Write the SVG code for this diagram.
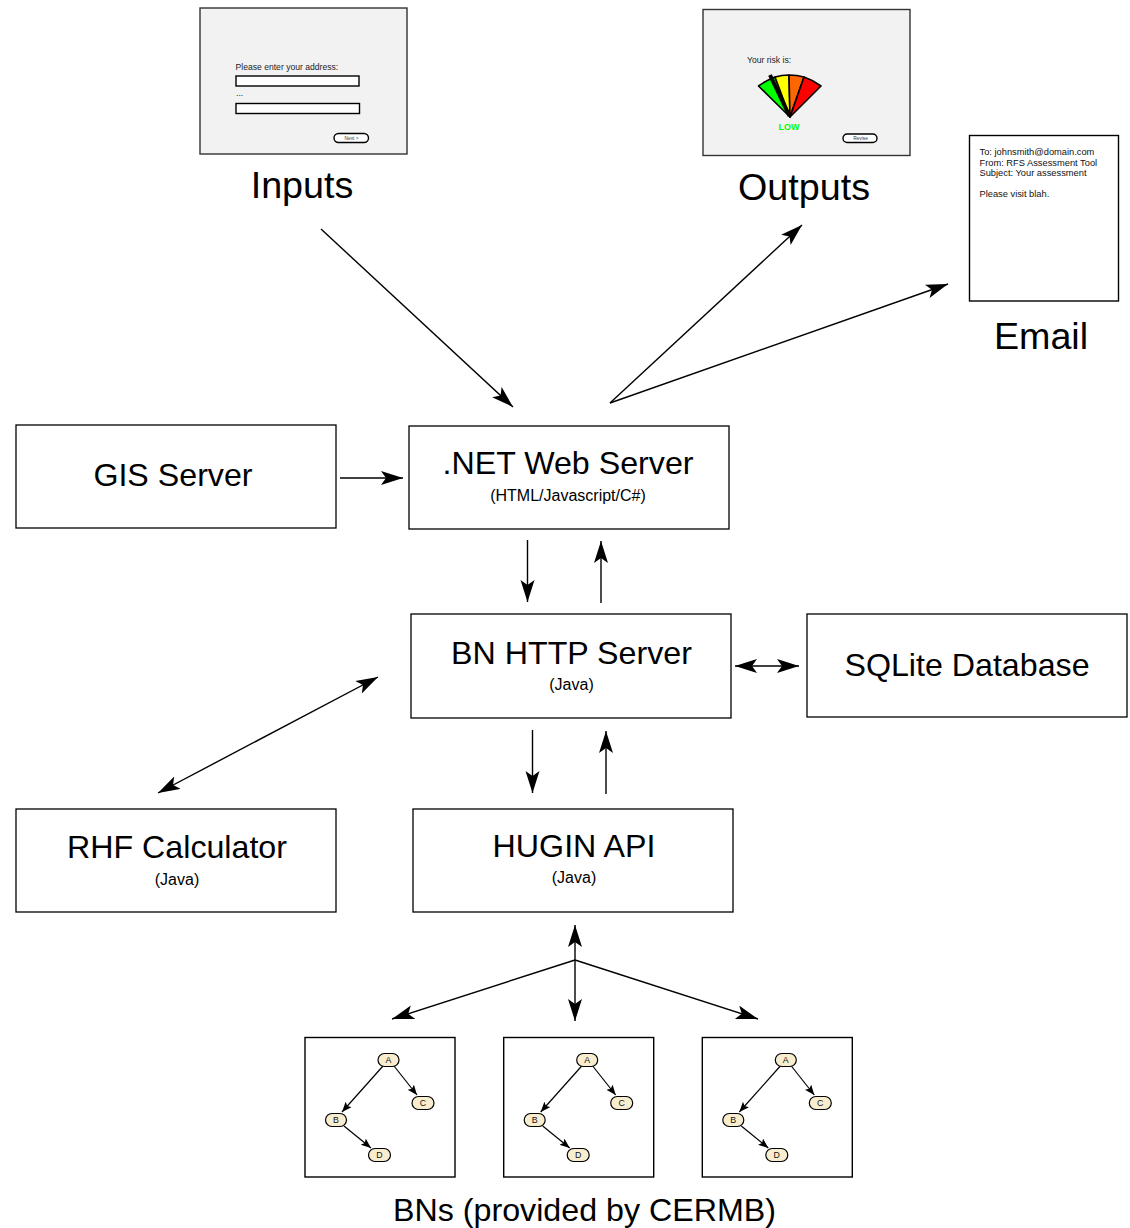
<svg xmlns="http://www.w3.org/2000/svg" width="1130" height="1228" viewBox="0 0 1130 1228">
<style>
text{font-family:"Liberation Sans",Arial,sans-serif;fill:#000}
.box{fill:#fff;stroke:#000;stroke-width:1.3}
.m{text-anchor:middle}
.t{font-size:32.2px}
.s{font-size:16px}
.big{font-size:37.7px}
.screen{fill:#f2f2f2;stroke:#333;stroke-width:1.4}
.inp{fill:#fff;stroke:#000;stroke-width:1.4}
.btn{fill:#fff;stroke:#000;stroke-width:1.4}
.sm{font-size:8.6px;fill:#222}
.mail{font-size:9.3px;fill:#111}
.tiny{font-size:4.8px;fill:#333;text-anchor:middle}
.sec{stroke:#000;stroke-width:1.6;stroke-linejoin:round}
.bn{fill:#fff;stroke:#000;stroke-width:1.4}
.bnn{fill:#f8edcf;stroke:#000;stroke-width:1.2}
.bnt{font-size:8.8px;text-anchor:middle;fill:#111}
.bne{fill:none;stroke:#000;stroke-width:1.2;marker-end:url(#sa)}
#connectors line,#connectors path{fill:none;stroke:#000;stroke-width:1.4}
.a1{marker-end:url(#ah)}
.a2{marker-start:url(#ah);marker-end:url(#ah)}
</style>
<defs>
<marker id="ah" markerUnits="userSpaceOnUse" markerWidth="24" markerHeight="16" viewBox="0 0 24 16" refX="22" refY="7" orient="auto-start-reverse"><path d="M22,7 L0,0 L5,7 L0,14 Z" fill="#000"/></marker>
<marker id="sa" markerUnits="userSpaceOnUse" markerWidth="12" markerHeight="10" viewBox="0 0 12 10" refX="10" refY="4" orient="auto"><path d="M10,4 L0,0 L2,4 L0,8 Z" fill="#000"/></marker>
</defs>

<g id="connectors">
<line class="a1" x1="321" y1="229" x2="513" y2="407"/>
<line class="a1" x1="610" y1="403" x2="802" y2="225"/>
<line class="a1" x1="610" y1="403" x2="948" y2="284"/>
<line class="a1" x1="340" y1="478" x2="403" y2="478"/>
<line class="a1" x1="527.500" y1="540" x2="527.500" y2="602"/>
<line class="a1" x1="601" y1="603" x2="601" y2="541"/>
<line class="a2" x1="735" y1="666" x2="799" y2="666"/>
<line class="a2" x1="158" y1="793" x2="378" y2="677"/>
<line class="a1" x1="532.500" y1="730" x2="532.500" y2="793"/>
<line class="a1" x1="606" y1="794" x2="606" y2="731"/>
<line class="a2" x1="575" y1="925" x2="575" y2="1021"/>
<line class="a1" x1="575" y1="960" x2="392" y2="1019"/>
<line class="a1" x1="575" y1="960" x2="758" y2="1019"/>
</g>

<g id="inputs">
<rect class="screen" x="200" y="8" width="207" height="146"/>
<text class="sm" x="235.500" y="70">Please enter your address:</text>
<rect class="inp" x="236" y="76" width="123" height="10"/>
<text class="sm" x="236" y="96">...</text>
<rect class="inp" x="236" y="103.500" width="123.500" height="10"/>
<rect class="btn" x="334" y="133.500" width="34.500" height="9" rx="4.500"/>
<text class="tiny" x="351.500" y="140">Next &gt;</text>
<text class="big m" x="302" y="198">Inputs</text>
</g>

<g id="outputs">
<rect class="screen" x="703" y="9.500" width="207" height="146"/>
<text class="sm" x="747" y="62.500">Your risk is:</text>
<path class="sec" fill="#00ff00" d="M790,117 L758.500,86 Q765,81 775,77 Z"/>
<path class="sec" fill="#ffff00" d="M790,117 L775,77 Q782,75 789,75 Z"/>
<path class="sec" fill="#ff6600" d="M790,117 L789,75 Q797,75 804,77 Z"/>
<path class="sec" fill="#ff0000" d="M790,117 L804,77 Q813,80 821,86 Z"/>
<line x1="789.500" y1="116" x2="770" y2="75" stroke="#000" stroke-width="4"/>
<text x="789" y="130" font-size="9" font-weight="bold" text-anchor="middle" style="fill:#00ff00">LOW</text>
<rect class="btn" x="843" y="134" width="34" height="8.500" rx="4.200"/>
<text class="tiny" x="860.500" y="140">Revise</text>
<text class="big m" x="804" y="200">Outputs</text>
</g>

<g id="email">
<rect class="bn" x="969.500" y="135.500" width="149" height="165.500"/>
<text class="mail" x="979.500" y="155">To: johnsmith@domain.com</text>
<text class="mail" x="979.500" y="165.500">From: RFS Assessment Tool</text>
<text class="mail" x="979.500" y="176">Subject: Your assessment</text>
<text class="mail" x="979.500" y="197">Please visit blah.</text>
<text class="big m" x="1041" y="349">Email</text>
</g>

<g id="gis-server"><rect class="box" x="16" y="425" width="320" height="103"/><text class="t m" x="173" y="486">GIS Server</text></g>
<g id="net-web-server"><rect class="box" x="409" y="426" width="320" height="103"/><text class="t m" x="568" y="474">.NET Web Server</text><text class="s m" x="568" y="501">(HTML/Javascript/C#)</text></g>
<g id="bn-http-server"><rect class="box" x="411" y="614" width="320" height="104"/><text class="t m" x="571.500" y="664">BN HTTP Server</text><text class="s m" x="571.500" y="690">(Java)</text></g>
<g id="sqlite-database"><rect class="box" x="807" y="614" width="320" height="103"/><text class="t m" x="967" y="676">SQLite Database</text></g>
<g id="rhf-calculator"><rect class="box" x="16" y="809" width="320" height="103"/><text class="t m" x="177" y="858">RHF Calculator</text><text class="s m" x="177" y="885">(Java)</text></g>
<g id="hugin-api"><rect class="box" x="413" y="809" width="320" height="103"/><text class="t m" x="574" y="857">HUGIN API</text><text class="s m" x="574" y="883">(Java)</text></g>

<g id="bn-1">
<rect class="bn" x="305" y="1037.500" width="150" height="139.500"/>
<line class="bne" x1="383" y1="1066" x2="342" y2="1112"/><line class="bne" x1="394" y1="1066" x2="417" y2="1095"/><line class="bne" x1="344" y1="1126" x2="371" y2="1148"/>
<rect class="bnn" x="378" y="1053.500" width="21" height="13" rx="6.500"/><text class="bnt" x="388.500" y="1063">A</text>
<rect class="bnn" x="412" y="1096.500" width="22" height="13" rx="6.500"/><text class="bnt" x="423" y="1106">C</text>
<rect class="bnn" x="325.500" y="1113.500" width="21" height="13" rx="6.500"/><text class="bnt" x="336" y="1123">B</text>
<rect class="bnn" x="368.500" y="1148.500" width="22" height="13" rx="6.500"/><text class="bnt" x="379.500" y="1158">D</text>
</g>
<g id="bn-2" transform="translate(198.700 0)">
<rect class="bn" x="305" y="1037.500" width="150" height="139.500"/>
<line class="bne" x1="383" y1="1066" x2="342" y2="1112"/><line class="bne" x1="394" y1="1066" x2="417" y2="1095"/><line class="bne" x1="344" y1="1126" x2="371" y2="1148"/>
<rect class="bnn" x="378" y="1053.500" width="21" height="13" rx="6.500"/><text class="bnt" x="388.500" y="1063">A</text>
<rect class="bnn" x="412" y="1096.500" width="22" height="13" rx="6.500"/><text class="bnt" x="423" y="1106">C</text>
<rect class="bnn" x="325.500" y="1113.500" width="21" height="13" rx="6.500"/><text class="bnt" x="336" y="1123">B</text>
<rect class="bnn" x="368.500" y="1148.500" width="22" height="13" rx="6.500"/><text class="bnt" x="379.500" y="1158">D</text>
</g>
<g id="bn-3" transform="translate(397.300 0)">
<rect class="bn" x="305" y="1037.500" width="150" height="139.500"/>
<line class="bne" x1="383" y1="1066" x2="342" y2="1112"/><line class="bne" x1="394" y1="1066" x2="417" y2="1095"/><line class="bne" x1="344" y1="1126" x2="371" y2="1148"/>
<rect class="bnn" x="378" y="1053.500" width="21" height="13" rx="6.500"/><text class="bnt" x="388.500" y="1063">A</text>
<rect class="bnn" x="412" y="1096.500" width="22" height="13" rx="6.500"/><text class="bnt" x="423" y="1106">C</text>
<rect class="bnn" x="325.500" y="1113.500" width="21" height="13" rx="6.500"/><text class="bnt" x="336" y="1123">B</text>
<rect class="bnn" x="368.500" y="1148.500" width="22" height="13" rx="6.500"/><text class="bnt" x="379.500" y="1158">D</text>
</g>
<text class="t m" x="584.500" y="1221">BNs (provided by CERMB)</text>
</svg>
